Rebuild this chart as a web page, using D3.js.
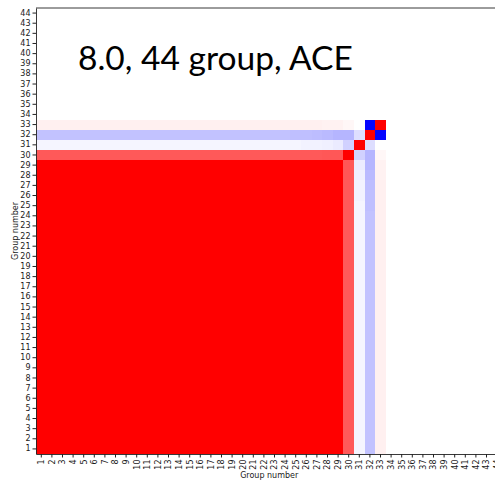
<!DOCTYPE html>
<html>
<head>
<meta charset="utf-8">
<script src="https://cdn.jsdelivr.net/npm/d3@7"></script>
<style>
  html, body { margin: 0; padding: 0; background: #fff; }
  svg { display: block; }
  .tick text { font-family: "DejaVu Sans", sans-serif; font-size: 8px; fill: #1a1a1a; }
  .tick line, .domain { stroke: #222; }
</style>
</head>
<body>
<svg id="chart" width="495" height="480"></svg>
<script>
// Group labels along both axes
const groups = ["1","2","3","4","5","6","7","8","9","10","11","12","13","14","15","16","17","18","19","20","21","22",
                "23","24","25","26","27","28","29","30","31","32","33","34","35","36","37","38","39","40","41","42","43","44"];

// Groups 1–29 move together: pairwise correlation among them
const coreGroups = ["1","2","3","4","5","6","7","8","9","10","11","12","13","14","15","16","17","18","19","20","21","22","23","24","25","26","27","28","29"];
const coreCorrelation = 1.0;

// Correlation of groups 30–33 with core groups 1..29 (in order)
const corr30 = [0.65,0.65,0.65,0.65,0.65,0.65,0.65,0.65,0.65,0.65,0.65,0.65,0.65,0.65,0.65,0.65,0.65,0.65,0.65,0.65,0.65,0.65,0.65,0.65,0.65,0.65,0.65,0.66,0.66];
const corr31 = [-0.04,-0.04,-0.04,-0.04,-0.04,-0.04,-0.04,-0.04,-0.04,-0.04,-0.04,-0.04,-0.04,-0.04,-0.04,-0.04,-0.04,-0.04,-0.04,-0.04,-0.04,-0.04,-0.04,-0.04,-0.04,-0.05,-0.05,-0.06,-0.08];
const corr32 = [-0.24,-0.24,-0.24,-0.24,-0.24,-0.24,-0.24,-0.24,-0.24,-0.24,-0.24,-0.24,-0.24,-0.24,-0.24,-0.24,-0.24,-0.24,-0.24,-0.24,-0.24,-0.24,-0.24,-0.24,-0.25,-0.25,-0.26,-0.27,-0.29];
const corr33 = [0.06,0.06,0.06,0.06,0.06,0.06,0.06,0.06,0.06,0.06,0.06,0.06,0.06,0.06,0.06,0.06,0.06,0.06,0.06,0.06,0.06,0.06,0.06,0.06,0.06,0.06,0.06,0.05,0.05];

// Correlations among groups 30–33
const outerGroups = ["30","31","32","33"];
const outerBlock = [
  [ 1.00, -0.18, -0.29,  0.03],
  [-0.18,  1.00, -0.13,  0.00],
  [-0.29, -0.13,  1.00, -0.98],
  [ 0.03,  0.00, -0.98,  1.00]
];
const outerVsCore = [corr30, corr31, corr32, corr33];
// Groups 34–44 carry no correlation with anything (drawn as 0)
const uncorrelatedValue = 0;

const titleText = "8.0, 44 group, ACE";
const axisTitle = "Group number";

// Look up the correlation between two groups
function corr(a, b) {
  const ca = coreGroups.indexOf(a), cb = coreGroups.indexOf(b);
  const oa = outerGroups.indexOf(a), ob = outerGroups.indexOf(b);
  if (ca >= 0 && cb >= 0) return coreCorrelation;
  if (oa >= 0 && ob >= 0) return outerBlock[oa][ob];
  if (oa >= 0 && cb >= 0) return outerVsCore[oa][cb];
  if (ca >= 0 && ob >= 0) return outerVsCore[ob][ca];
  return uncorrelatedValue;
}

const cells = [];
groups.forEach(r => groups.forEach(c => cells.push({ row: r, col: c, value: corr(r, c) })));

// Layout
const plotLeft = 36, plotTop = 8, plotBottom = 454;
const cellW = 10.6;
const plotRight = plotLeft + groups.length * cellW;

const svg = d3.select("#chart");

const x = d3.scaleBand().domain(groups).range([plotLeft, plotRight]).padding(0);
const y = d3.scaleBand().domain(groups).range([plotBottom, plotTop]).padding(0);

// blue-white-red diverging colour map over [-1, 1]
const color = d3.scaleLinear().domain([-1, 0, 1]).range(["#0000ff", "#ffffff", "#ff0000"]).clamp(true);

svg.append("g")
  .selectAll("rect")
  .data(cells)
  .join("rect")
  .attr("x", d => x(d.col))
  .attr("y", d => y(d.row))
  .attr("width", x.bandwidth())
  .attr("height", y.bandwidth())
  .attr("fill", d => color(d.value))
  .attr("shape-rendering", "crispEdges");

// Axes
svg.append("g")
  .attr("transform", `translate(${plotLeft},0)`)
  .call(d3.axisLeft(y).tickSize(3.5).tickPadding(2).tickSizeOuter(0));

const xAxis = svg.append("g")
  .attr("transform", `translate(0,${plotBottom})`)
  .call(d3.axisBottom(x).tickSize(3.5).tickSizeOuter(0));

xAxis.selectAll(".tick text")
  .attr("transform", "rotate(-90)")
  .attr("text-anchor", "end")
  .attr("x", -5.5)
  .attr("y", 0)
  .attr("dy", "0.35em");

svg.selectAll(".domain").attr("stroke", "#222").attr("stroke-width", 0.9);

// top and right frame lines
svg.append("line")
  .attr("x1", plotLeft).attr("x2", plotRight).attr("y1", plotTop).attr("y2", plotTop)
  .attr("stroke", "#222").attr("stroke-width", 0.9);
svg.append("line")
  .attr("x1", plotRight).attr("x2", plotRight).attr("y1", plotTop).attr("y2", plotBottom)
  .attr("stroke", "#222").attr("stroke-width", 0.9);

// Axis titles
svg.append("text")
  .attr("x", (plotLeft + plotRight) / 2)
  .attr("y", 478)
  .attr("text-anchor", "middle")
  .attr("font-family", "DejaVu Sans, sans-serif")
  .attr("font-size", 8)
  .attr("fill", "#1a1a1a")
  .text(axisTitle);

svg.append("text")
  .attr("transform", `translate(18,${(plotTop + plotBottom) / 2}) rotate(-90)`)
  .attr("text-anchor", "middle")
  .attr("font-family", "DejaVu Sans, sans-serif")
  .attr("font-size", 8)
  .attr("fill", "#1a1a1a")
  .text(axisTitle);

// Large heading over the map
const title = svg.append("text")
  .attr("x", 78)
  .attr("y", 70)
  .attr("font-family", "Lato, 'Open Sans', sans-serif")
  .attr("font-size", 34)
  .attr("fill", "#000")
  .text(titleText);
const w = title.node().getComputedTextLength();
title.attr("font-size", 34 * 275 / w);
</script>
</body>
</html>
